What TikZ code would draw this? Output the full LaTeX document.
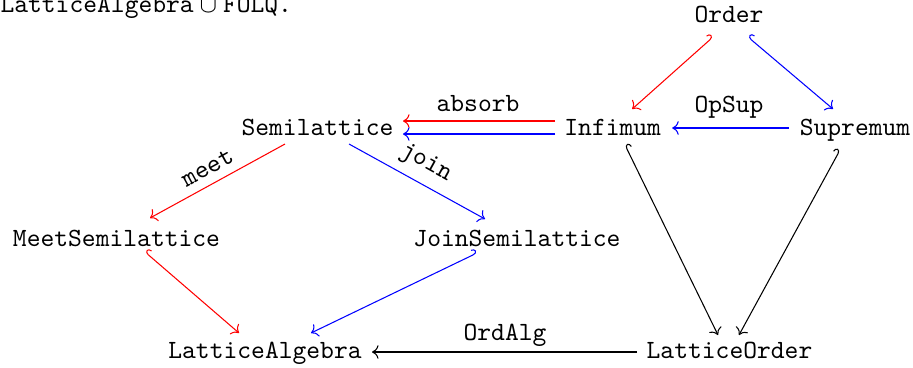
\documentclass[tikz,border=0pt]{standalone}
\usetikzlibrary{calc,arrows.meta}
\begin{document}
\begin{tikzpicture}[x=0.3803pt,y=-0.3803pt,
  every node/.style={font=\ttfamily, inner sep=0pt},
  obj/.style={anchor=base},
  hookA/.style={{Hooks[right,width=4.2pt,length=1.6pt]}->},
  hookB/.style={{Hooks[left,width=4.2pt,length=1.6pt]}->}]
\useasboundingbox (0,0) rectangle (913,367);
\node[anchor=base west] (top) at (0,12) {$\texttt{LatticeAlgebra}\cup\texttt{FOLQ}$.};
\node[obj] (Ord) at (729,22) {Order};
\node[obj] (Inf) at (612.7,135) {Infimum};
\node[obj] (Sup) at (855,135) {Supremum};
\node[obj] (Sem) at (317.5,135) {Semilattice};
\node[obj] (Meet) at (116.5,246) {MeetSemilattice};
\node[obj] (Join) at (517,246) {JoinSemilattice};
\node[obj] (LA) at (265,358) {LatticeAlgebra};
\node[obj] (LO) at (729.5,358) {LatticeOrder};
\node[obj] (absorb) at (478,111) {absorb};
\node[obj] (opsup) at (729,112) {OpSup};
\node[obj] (ordalg) at (505,340) {OrdAlg};
\node[rotate=28.7] (meetl) at (207.5,168) {meet};
\node[rotate=-29] (joinl) at (425.7,163.3) {join};
\draw[red,hookB] ($(Ord.base)+(-16,15)$) -- ($(Inf.base)+(19.5,-26)$);
\draw[blue,hookA] ($(Ord.base)+(19,15)$) -- ($(Sup.base)+(-22,-26)$);
\draw[blue,->] ($(Sup.base)+(-66,-7)$) -- ($(Inf.base)+(59.5,-7)$);
\draw[red,->] ($(Inf.base)+(-57.7,-14)$) -- ($(Sem.base)+(85.5,-14)$);
\draw[blue,->] ($(Inf.base)+(-57.7,-1)$) -- ($(Sem.base)+(85.5,-1)$);
\draw[red,->] ($(Sem.base)+(-32.5,9)$) -- ($(Meet.base)+(33.5,-28)$);
\draw[blue,->] ($(Sem.base)+(31.5,9)$) -- ($(Join.base)+(-32,-27)$);
\draw[hookA] ($(Inf.base)+(12.3,10)$) -- ($(LO.base)+(-11.5,-23)$);
\draw[hookB] ($(Sup.base)+(-15,15)$) -- ($(LO.base)+(9.5,-23)$);
\draw[red,hookA] ($(Meet.base)+(28.6,6)$) -- ($(LA.base)+(-26,-25)$);
\draw[blue,hookB] ($(Join.base)+(-40,7)$) -- ($(LA.base)+(46,-25)$);
\draw[->] ($(LO.base)+(-92.5,-6)$) -- ($(LA.base)+(107,-6)$);
\end{tikzpicture}
\end{document}
